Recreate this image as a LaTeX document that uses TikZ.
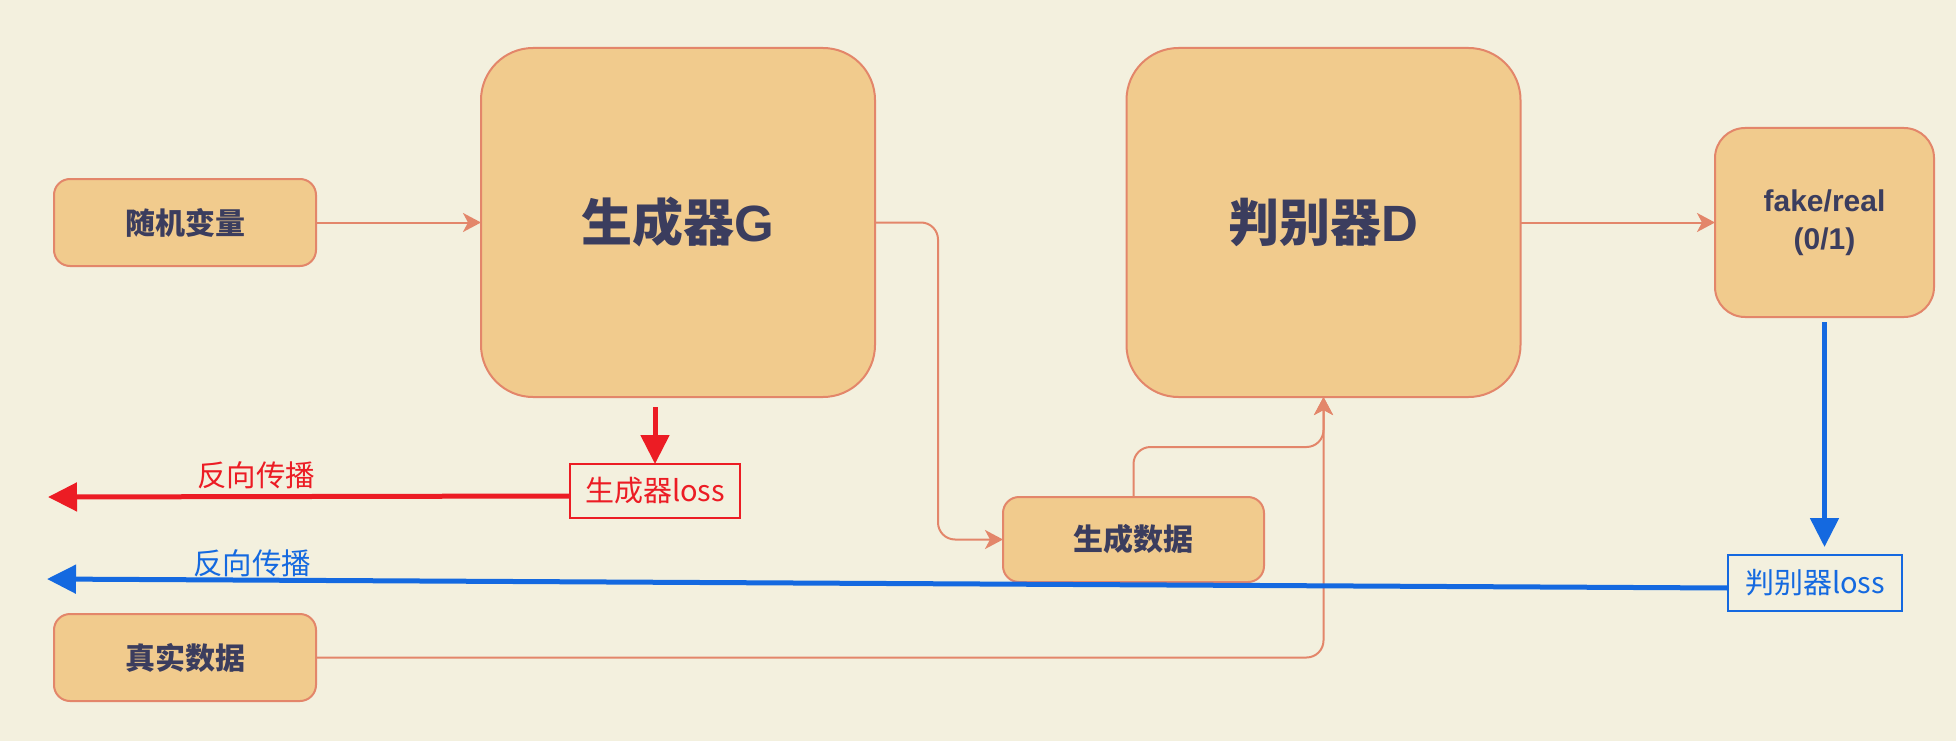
\documentclass[tikz,border=0pt]{standalone}
\usepackage{fontspec}
\setmainfont{Noto Sans CJK SC}
\newfontfamily\cjk{Noto Sans CJK SC}
\newfontfamily\lat{Liberation Sans}
\usetikzlibrary{arrows.meta}

\definecolor{bgcol}{HTML}{F3F0DE}
\definecolor{boxfill}{HTML}{F1CB8D}
\definecolor{boxline}{HTML}{E3866A}
\definecolor{textcol}{HTML}{3B3D5E}
\definecolor{losred}{HTML}{EC1C24}
\definecolor{losblue}{HTML}{1469E0}

\tikzset{
  block/.style={draw=boxline, fill=boxfill, line width=2pt, text=textcol,
    inner sep=0pt, outer sep=0pt, align=center, font=\cjk\bfseries},
  smallblock/.style={block, rounded corners=16pt, minimum width=262pt,
    minimum height=87pt, font=\cjk\bfseries\fontsize{30}{36}\selectfont},
  bigblock/.style={block, rounded corners=52pt, minimum width=394pt,
    minimum height=349pt, font=\cjk\bfseries\fontsize{51}{60}\selectfont},
  flow/.style={draw=boxline, line width=2pt, rounded corners=17pt,
    -{Stealth[length=18pt,width=19pt,inset=5pt]}},
  lossbox/.style={draw=#1, line width=2pt, text=#1, inner sep=0pt,
    outer sep=0pt, font=\cjk\fontsize{29}{34}\selectfont},
  backprop/.style={draw=#1, line width=5pt, -{Triangle[length=29pt,width=28pt]}},
  proplabel/.style={text=#1, inner sep=0pt, font=\cjk\fontsize{29.5}{34}\selectfont}
}

\begin{document}
\begin{tikzpicture}[x=1pt,y=-1pt]
  % canvas
  \fill[bgcol] (0,0) rectangle (1956,741);
  \useasboundingbox (0,0) rectangle (1956,741);

  % inputs, networks and outputs
  \node[smallblock] (rand)  at (185,222.5) {随机变量};
  \node[smallblock] (real)  at (185,657.5) {真实数据};
  \node[bigblock]   (gen)   at (678,222.5) {生成器{\lat\bfseries G}};
  \node[bigblock]   (disc)  at (1323.5,222.5) {判别器{\lat\bfseries D}};
  \node[smallblock, minimum width=261pt, minimum height=85pt] (gdata) at (1133.5,539.5) {生成数据};
  \node[block, rounded corners=30pt, minimum width=219pt, minimum height=189pt,
        font=\lat\bfseries\fontsize{30}{38}\selectfont] (out) at (1824.5,222.5) {fake/real\\(0/1)};

  % loss boxes
  \node[lossbox=losred, minimum width=170pt, minimum height=54pt] (gloss) at (655,491) {生成器loss};
  \node[lossbox=losblue, minimum width=174pt, minimum height=56pt] (dloss) at (1815,583) {判别器loss};

  % data flow
  \draw[flow] (rand) -- (gen);
  \draw[flow] (gen.east) -| ([xshift=-65pt]gdata.west) -- (gdata.west);
  \draw[flow] (gdata.north) |- ([yshift=-50pt]disc.south) -- (disc.south);
  \draw[flow] (real.east) -| (disc.south);
  \draw[flow] (disc) -- (out);

  % loss signals and back-propagation
  \coordinate (gtop) at ([yshift=57pt]gloss.north);
  \draw[backprop=losred] (gtop) -- (gloss.north);
  \coordinate (redtip) at (48,497);
  \draw[backprop=losred] ([yshift=-5pt]gloss.west) -- (redtip);
  \node[proplabel=losred] (redlbl) at (256,475) {反向传播};

  \coordinate (dtop) at ([yshift=-5pt]out.south);
  \coordinate (dend) at ([yshift=8pt]dloss.north);
  \draw[backprop=losblue] (dtop) -- (dend -| dtop);
  \coordinate (bluetip) at (47,579);
  \draw[backprop=losblue] ([yshift=-5pt]dloss.west) -- (bluetip);
  \node[proplabel=losblue] (bluelbl) at (252,563) {反向传播};
\end{tikzpicture}
\end{document}
